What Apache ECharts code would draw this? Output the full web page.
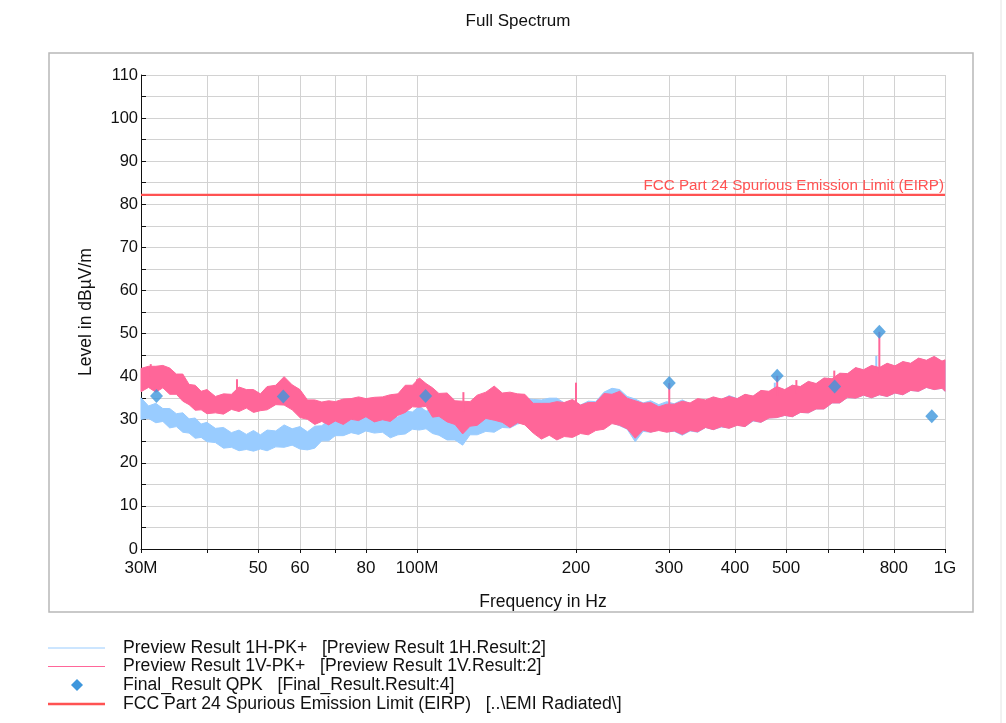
<!DOCTYPE html>
<html>
<head>
<meta charset="utf-8">
<script src="https://cdn.jsdelivr.net/npm/echarts@6/dist/echarts.min.js"></script>
<style>
html,body{margin:0;padding:0;background:#fff;}
#chart{width:1006px;height:723px;}
</style>
</head>
<body>
<div id="chart"></div>
<script>
// ---------- data (frequencies in MHz, levels in dBµV/m) ----------
const FREQ_MHZ = [30,31,32,33,34,35,36,37,38,39,40,41.5,43,44.5,46,47.5,49,50.5,52,54,56,58,60,62,64,66,68,70,72.5,75,77.5,80,83,86,89,92,95,98,101,104,107,110,114,118,122,126,130,135,140,145,150,155,160,166,172,178,184,190,197,204,211,218,226,234,242,250,259,268,277,287,297,307,318,329,340,352,364,377,390,404,418,433,448,464,480,497,514,532,551,570,590,611,632,654,677,701,726,751,777,804,832,861,891,922,954,987,1000];

// Preview Result 1V-PK+ (pink band: upper / lower envelope)
const V_TOP = [41.9,42.4,42.4,42.6,42.0,40.6,40.6,38.2,38.0,36.6,37.0,35.4,36.0,35.9,37.6,37.0,37.0,36.0,37.7,38.0,40.0,38.1,37.0,34.6,34.6,34.1,34.4,34.2,34.8,34.9,35.3,34.9,35.2,35.3,35.8,36.0,38.0,38.0,39.7,38.4,37.4,36.1,36.2,34.4,34.3,34.2,35.7,36.4,37.8,36.2,36.4,36.0,35.9,33.8,33.8,33.8,34.2,34.0,34.7,33.4,34.0,34.0,36.1,35.9,36.6,35.0,34.4,33.8,34.0,33.0,33.6,33.6,34.3,33.9,34.9,34.6,35.3,34.8,35.4,34.9,35.9,35.5,36.8,36.6,37.7,37.0,38.0,37.7,38.9,38.4,39.7,39.5,40.8,40.7,42.1,41.6,42.6,42.1,43.1,42.5,43.5,43.1,44.3,43.8,44.7,43.6,43.9];
const V_BOT = [36.5,37.5,36.4,37.4,35.9,35.9,34.3,33.5,32.2,32.3,31.4,31.6,31.3,32.4,31.9,32.7,31.7,32.1,32.3,33.5,33.4,32.3,30.5,30.1,28.9,29.6,28.8,29.7,28.9,30.1,29.8,30.7,29.5,30.0,29.6,31.0,31.7,33.0,32.9,33.1,30.6,30.8,29.5,28.9,26.7,28.5,28.7,30.3,29.9,29.4,28.2,29.3,28.8,26.9,25.5,26.4,25.3,26.1,25.9,26.8,26.5,27.5,27.8,29.1,28.7,27.9,25.7,27.6,27.1,27.5,27.1,27.4,26.6,27.5,27.2,28.2,27.7,28.4,28.0,28.7,28.4,29.8,29.4,30.4,30.5,31.0,30.7,31.7,31.6,32.5,32.5,33.9,33.9,35.2,35.0,35.7,35.1,35.8,35.4,36.2,35.8,36.8,36.6,37.5,37.0,37.3,36.6];

// Preview Result 1H-PK+ (light blue band: upper / lower envelope)
const H_TOP = [35.1,33.2,33.8,32.6,32.6,31.4,31.6,30.2,30.4,29.0,29.4,28.0,28.2,27.0,27.6,26.6,27.5,26.5,27.6,27.4,28.8,27.9,28.4,27.2,28.5,28.6,30.0,29.8,31.3,30.8,31.8,31.3,31.8,30.7,31.2,30.6,32.0,31.8,33.1,32.0,32.4,30.9,31.0,29.4,29.8,30.4,31.8,31.4,32.5,31.9,33.0,32.6,35.0,34.7,34.6,35.0,35.0,33.9,34.5,33.4,34.3,34.2,36.4,37.3,37.0,35.4,34.8,33.9,34.4,33.5,34.2,33.7,34.6,33.7,34.7,34.4,35.2,34.6,35.6,34.9,35.8,35.4,36.7,36.4,37.6,36.9,38.0,37.6,38.8,38.3,39.6,39.4,40.7,40.6,42.0,41.5,42.5,42.0,43.0,42.4,43.4,43.0,44.2,43.7,44.6,43.5,43.6];
const H_BOT = [30.1,30.3,29.3,29.6,28.1,28.4,27.1,26.9,25.7,25.9,24.9,24.7,23.4,23.6,22.8,23.1,22.7,23.2,22.8,23.7,23.6,24.1,23.2,23.0,23.4,25.1,25.1,26.3,26.3,27.0,26.6,27.4,26.9,27.1,25.8,26.5,26.7,27.8,27.6,27.9,26.8,26.4,25.3,25.3,24.1,26.5,26.5,27.3,27.1,28.2,28.1,29.0,29.4,30.3,29.1,27.0,26.1,26.6,26.3,27.2,27.1,28.0,28.1,29.3,28.6,27.8,24.9,27.3,27.1,27.7,27.2,27.3,26.4,27.4,27.1,28.2,27.7,28.3,28.1,28.8,28.4,29.7,29.4,30.4,30.5,31.0,30.7,31.7,31.6,32.5,32.5,33.9,33.9,35.2,35.0,35.7,35.1,35.8,35.4,36.2,35.8,36.8,36.6,37.5,37.0,37.3,36.6];

// narrow spikes: [frequency MHz, from level, to level]
const V_SPIKES = [[31.3,40,42.9],[45.6,35,39.4],[100,37,39.4],[122.4,32,36.4],[200,32.5,38.6],[300.4,32,38.5],[481,35.5,40.2],[523,36,39.2],[617,38,41.4],[751,40.5,50.4]];
const H_SPIKES = [[476,35,38.6],[741,40,44.8]];

// Final_Result QPK
const QPK_FREQ  = [32.1,55.8,103.8,300.4,481,618,751,944];
const QPK_LEVEL = [35.5,35.4,35.5,38.5,40.2,37.7,50.4,30.8];

// Limit
const LIMIT_LEVEL = 82.2;
const LIMIT_NAME = 'FCC Part 24 Spurious Emission Limit (EIRP)';

// axes
const X_TICKS  = [30,40,50,60,70,80,100,200,300,400,500,600,700,800,1000];
const X_LABELS = [30,50,60,80,100,200,300,400,500,800,1000];
const X_LABEL_TEXT = {30:'30M',100:'100M',1000:'1G'};
const Y_MIN = 0, Y_MAX = 110, Y_STEP = 10;

const LEGEND_TEXT = [
  'Preview Result 1H-PK+   [Preview Result 1H.Result:2]',
  'Preview Result 1V-PK+   [Preview Result 1V.Result:2]',
  'Final_Result QPK   [Final_Result.Result:4]',
  'FCC Part 24 Spurious Emission Limit (EIRP)   [..\\EMI Radiated\\]'
];

// ---------- styles ----------
const FONT = '"Liberation Sans", Arial, sans-serif';
const C_H = '#99ccff', C_V = '#ff6699', C_QPK = '#3d96dc', C_LIM = '#ff5252', C_GRID = '#d2d2d2';

function bandSeries(name, top, bot, color) {
  return {
    name: name, type: 'custom', z: 2,
    data: FREQ_MHZ.map((f, i) => [f, bot[i], top[i]]),
    encode: {x: 0, y: [1, 2]},
    renderItem: function (params, api) {
      if (params.dataIndex !== 0) return null;
      const pts = [];
      for (let i = 0; i < FREQ_MHZ.length; i++) pts.push(api.coord([FREQ_MHZ[i], top[i]]));
      for (let i = FREQ_MHZ.length - 1; i >= 0; i--) pts.push(api.coord([FREQ_MHZ[i], bot[i]]));
      return {type: 'polygon', shape: {points: pts}, style: {fill: color, stroke: color, lineWidth: 1}};
    },
    silent: true
  };
}
function spikeSeries(name, spikes, color, z) {
  return {
    name: name, type: 'custom', z: z,
    data: spikes,
    encode: {x: 0, y: [1, 2]},
    renderItem: function (params, api) {
      const a = api.coord([api.value(0), api.value(1)]);
      const b = api.coord([api.value(0), api.value(2)]);
      return {type: 'line', shape: {x1: a[0], y1: a[1], x2: b[0], y2: b[1]}, style: {stroke: color, lineWidth: 2}};
    },
    silent: true
  };
}

const chart = echarts.init(document.getElementById('chart'), null, {renderer: 'canvas'});

const legendGraphics = [];
const rowY = [648, 666.5, 685, 704];
LEGEND_TEXT.forEach((t, i) => {
  const y = rowY[i];
  if (i === 0 || i === 1) {
    legendGraphics.push({type: 'line', shape: {x1: 48, y1: y, x2: 105, y2: y}, style: {stroke: i === 0 ? C_H : C_V, lineWidth: 1}});
  } else if (i === 2) {
    legendGraphics.push({type: 'polygon', shape: {points: [[77, y - 6], [83, y], [77, y + 6], [71, y]]}, style: {fill: C_QPK}});
  } else {
    legendGraphics.push({type: 'line', shape: {x1: 48, y1: y, x2: 105, y2: y}, style: {stroke: C_LIM, lineWidth: 2.5}});
  }
  legendGraphics.push({type: 'text', x: 123, y: y, style: {text: t, font: '17.6px ' + FONT, fill: '#111', textVerticalAlign: 'middle'}});
});

const option = {
  backgroundColor: '#fff',
  animation: false,
  title: {
    text: 'Full Spectrum', left: 513, top: 8, textAlign: 'center',
    textStyle: {fontFamily: FONT, fontSize: 17, fontWeight: 'normal', color: '#111'}
  },
  grid: {left: 141, right: 61, top: 75, bottom: 174, containLabel: false},
  xAxis: {
    type: 'log', logBase: 10, min: 30, max: 1000,
    name: 'Frequency in Hz', nameLocation: 'middle', nameGap: 44,
    nameTextStyle: {fontFamily: FONT, fontSize: 17.5, color: '#111'},
    axisLine: {lineStyle: {color: '#111', width: 1}},
    axisTick: {show: true, customValues: X_TICKS, length: 4, lineStyle: {color: '#111'}},
    axisLabel: {
      customValues: X_LABELS, margin: 11, fontFamily: FONT, fontSize: 17, color: '#111',
      formatter: v => X_LABEL_TEXT[v] || String(v)
    },
    splitLine: {show: true, lineStyle: {color: C_GRID, width: 1}},
    minorTick: {show: false}, minorSplitLine: {show: false}
  },
  yAxis: {
    type: 'value', min: Y_MIN, max: Y_MAX, interval: Y_STEP,
    name: 'Level in dBµV/m', nameLocation: 'middle', nameGap: 46,
    nameTextStyle: {fontFamily: FONT, fontSize: 17.5, color: '#111'},
    axisLine: {show: true, lineStyle: {color: '#111', width: 1}},
    axisTick: {show: true, inside: true, length: 5, lineStyle: {color: '#111'}},
    minorTick: {show: true, splitNumber: 2, length: 5, lineStyle: {color: '#111'}},
    axisLabel: {margin: 3, fontFamily: FONT, fontSize: 16.5, color: '#111'},
    splitLine: {show: true, lineStyle: {color: C_GRID, width: 1}},
    minorSplitLine: {show: true, lineStyle: {color: C_GRID, width: 1}}
  },
  graphic: [
    {type: 'rect', shape: {x: 49, y: 53, width: 924, height: 559}, style: {fill: 'none', stroke: '#b8b8b8', lineWidth: 1.5}, z: -1},
    {type: 'line', shape: {x1: 1001, y1: 0, x2: 1001, y2: 723}, style: {stroke: '#e4e4e4', lineWidth: 1}, z: -1}
  ].concat(legendGraphics),
  series: [
    bandSeries('Preview Result 1H-PK+', H_TOP, H_BOT, C_H),
    spikeSeries('H spikes', H_SPIKES, C_H, 2),
    bandSeries('Preview Result 1V-PK+', V_TOP, V_BOT, C_V),
    spikeSeries('V spikes', V_SPIKES, C_V, 3),
    {
      name: LIMIT_NAME, type: 'line', z: 4,
      data: [[30, LIMIT_LEVEL], [1000, LIMIT_LEVEL]],
      symbol: 'none', lineStyle: {color: C_LIM, width: 2},
      markLine: {
        silent: true, symbol: 'none',
        data: [{yAxis: LIMIT_LEVEL}],
        lineStyle: {color: C_LIM, width: 2, type: 'solid'},
        label: {show: true, position: 'insideEndTop', distance: 1, formatter: LIMIT_NAME,
                color: C_LIM, fontFamily: FONT, fontSize: 15.2}
      }
    },
    {
      name: 'Final_Result QPK', type: 'scatter', z: 5,
      data: QPK_FREQ.map((f, i) => [f, QPK_LEVEL[i]]),
      symbol: 'diamond', symbolSize: [13, 14],
      itemStyle: {color: C_QPK}
    }
  ]
};
chart.setOption(option);
</script>
</body>
</html>
